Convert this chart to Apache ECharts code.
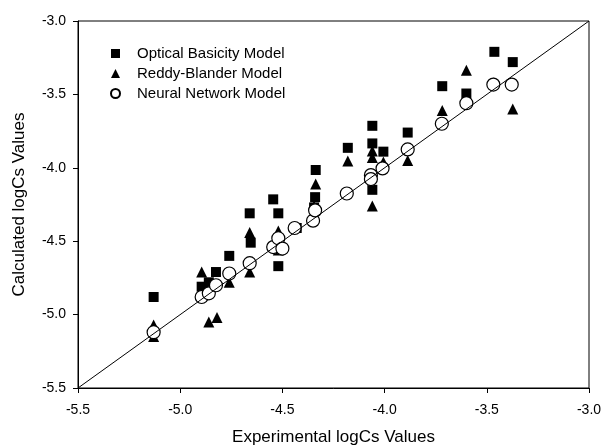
<!DOCTYPE html>
<html>
<head>
<meta charset="utf-8"/>
<title>logCs</title>
<script src="https://cdn.jsdelivr.net/npm/echarts@6/dist/echarts.min.js"></script>
</head>
<body style="margin:0;background:#fff;">
<div id="chart" style="width:603px;height:448px;"></div>
<script type="text/javascript">
// Optical Basicity Model (squares)
var obX = [-5.13, -4.895, -4.86, -4.825, -4.76, -4.66, -4.655, -4.545, -4.52, -4.52, -4.43,
           -4.337, -4.34, -4.345, -4.18, -4.06, -4.06, -4.06, -4.006, -3.887, -3.718, -3.60, -3.463, -3.373];
var obY = [-4.88, -4.81, -4.78, -4.71, -4.60, -4.31, -4.51, -4.215, -4.31, -4.67, -4.41,
           -4.015, -4.20, -4.27, -3.864, -3.714, -3.834, -4.15, -3.89, -3.76, -3.444, -3.494, -3.21, -3.28];
// Reddy-Blander Model (triangles)
var rbX = [-5.13, -5.13, -4.895, -4.86, -4.82, -4.76, -4.66, -4.66, -4.52, -4.52, -4.337,
           -4.345, -4.18, -4.06, -4.06, -4.06, -4.006, -3.887, -3.718, -3.60, -3.465, -3.373];
var rbY = [-5.07, -5.15, -4.71, -5.05, -5.02, -4.78, -4.44, -4.71, -4.43, -4.56, -4.11,
           -4.26, -3.954, -3.886, -3.93, -4.26, -3.96, -3.95, -3.61, -3.335, -3.42, -3.60];
// Neural Network Model (open circles)
var nnX = [-5.13, -4.895, -4.86, -4.825, -4.76, -4.66, -4.545, -4.52, -4.50, -4.44, -4.35,
           -4.34, -4.185, -4.067, -4.067, -4.01, -3.887, -3.72, -3.60, -3.468, -3.378];
var nnY = [-5.12, -4.88, -4.855, -4.80, -4.72, -4.65, -4.54, -4.48, -4.55, -4.41, -4.36,
           -4.29, -4.175, -4.05, -4.077, -4.004, -3.875, -3.70, -3.56, -3.433, -3.433];
var lineX = [-5.5, -3.0];
var lineY = [-5.5, -3.0];
var seriesNames = ['Optical Basicity Model', 'Reddy-Blander Model', 'Neural Network Model'];

function pairs(xs, ys) {
    var out = [];
    for (var i = 0; i < xs.length; i++) {
        out.push([xs[i], ys[i]]);
    }
    return out;
}

var font = 'Arial, "Liberation Sans", sans-serif';
var chart = echarts.init(document.getElementById('chart'));

var axisCommon = {
    type: 'value',
    min: -5.5,
    max: -3.0,
    interval: 0.5,
    nameLocation: 'middle',
    nameTextStyle: { fontFamily: font, fontSize: 17, color: '#000' },
    axisLine: { show: true, onZero: false, lineStyle: { color: '#000', width: 1 } },
    axisTick: { show: true, inside: false, length: 5, lineStyle: { color: '#000' } },
    axisLabel: {
        fontFamily: font, fontSize: 14, color: '#000',
        formatter: function (v) { return v.toFixed(1); }
    },
    splitLine: { show: false }
};

var option = {
    animation: false,
    backgroundColor: '#fff',
    grid: {
        left: 78, right: 14, top: 21, bottom: 60,
        outerBoundsMode: 'none',
        containLabel: false,
        show: true, borderColor: '#000', borderWidth: 1
    },
    legend: {
        orient: 'vertical',
        left: 105,
        top: 41,
        itemGap: 5,
        itemWidth: 9,
        itemHeight: 9,
        data: seriesNames,
        textStyle: { fontFamily: font, fontSize: 15, color: '#000', padding: [0, 0, 0, 12] }
    },
    xAxis: Object.assign({}, axisCommon, {
        name: 'Experimental logCs Values', nameGap: 41,
        axisLabel: Object.assign({}, axisCommon.axisLabel, { margin: 15 })
    }),
    yAxis: Object.assign({}, axisCommon, {
        name: 'Calculated logCs Values', nameGap: 50,
        axisLabel: Object.assign({}, axisCommon.axisLabel, { margin: 12 })
    }),
    series: [
        {
            name: seriesNames[0],
            type: 'scatter',
            symbol: 'rect',
            symbolSize: 10,
            itemStyle: { color: '#000', opacity: 1 },
            data: pairs(obX, obY),
            z: 2
        },
        {
            name: seriesNames[1],
            type: 'scatter',
            symbol: 'triangle',
            symbolSize: 11,
            itemStyle: { color: '#000', opacity: 1 },
            data: pairs(rbX, rbY),
            z: 3
        },
        {
            name: seriesNames[2],
            type: 'scatter',
            symbol: 'circle',
            symbolSize: 13,
            itemStyle: { color: '#fff', borderColor: '#000', borderWidth: 1.2, opacity: 1 },
            data: pairs(nnX, nnY),
            z: 4
        },
        {
            name: 'y=x',
            type: 'line',
            showSymbol: false,
            symbol: 'none',
            lineStyle: { color: '#000', width: 1 },
            data: pairs(lineX, lineY),
            z: 5
        }
    ]
};
chart.setOption(option);
</script>
</body>
</html>
